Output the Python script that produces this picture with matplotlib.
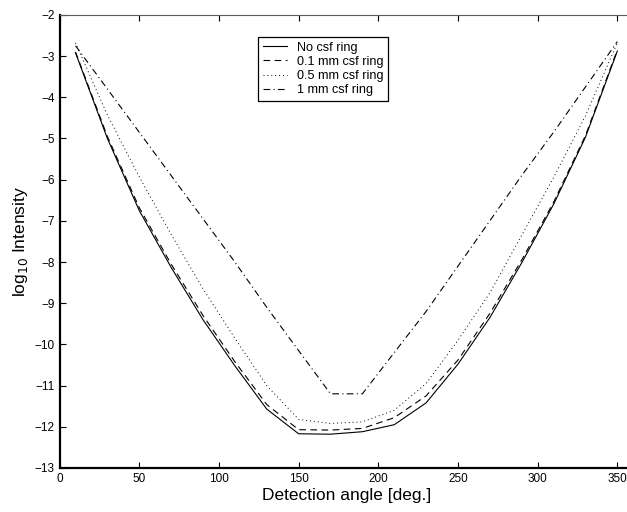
import matplotlib

matplotlib.use("Agg")
import matplotlib.pyplot as plt
import numpy as np

# detection angles (deg) and log10 intensity per csf ring thickness
angles = [10, 30, 50, 70, 90, 110, 130, 150, 170, 190, 210, 230, 250, 270, 290, 310, 330, 350]
no_csf = [-2.92, -5.00, -6.75, -8.13, -9.40, -10.52, -11.57, -12.17, -12.18, -12.12, -11.95,
          -11.42, -10.48, -9.35, -8.02, -6.60, -4.97, -2.88]
csf_01 = [-2.90, -4.95, -6.68, -8.05, -9.30, -10.42, -11.46, -12.07, -12.08, -12.04, -11.78,
          -11.25, -10.38, -9.25, -7.95, -6.55, -4.93, -2.85]
csf_05 = [-2.68, -4.43, -5.93, -7.33, -8.65, -9.85, -11.00, -11.82, -11.92, -11.88, -11.60,
          -10.95, -9.90, -8.75, -7.35, -5.95, -4.45, -2.68]
csf_1 = [-2.75, -3.80, -4.85, -5.90, -6.95, -8.00, -9.10, -10.15, -11.20, -11.20, -10.20,
         -9.20, -8.10, -7.00, -5.90, -4.85, -3.75, -2.65]

labels = ["No csf ring", "0.1 mm csf ring", "0.5 mm csf ring", "1 mm csf ring"]

plt.rcParams["font.family"] = ["Liberation Sans", "DejaVu Sans"]

fig = plt.figure(figsize=(6.27, 5.12), dpi=100)
ax = fig.add_axes([0.095, 0.086, 0.915, 0.885])

series = [
    (no_csf, "-", 0.8),
    (csf_01, (0, (6, 4)), 0.8),
    (csf_05, (0, (1, 3)), 0.7),
    (csf_1, (0, (6, 3, 1, 3)), 0.8),
]
for (vals, ls, lw), lab in zip(series, labels):
    ax.plot(angles, vals, linestyle=ls, color="black", linewidth=lw, label=lab)

ax.set_xlim(0, 360)
ax.set_ylim(-13, -2)
ax.set_xticks(np.arange(0, 351, 50))
ax.set_yticks(np.arange(-13, -1, 1))
ax.tick_params(direction="in", length=4, labelsize=8.5, top=True, right=True, width=0.8)

for side in ("left", "bottom"):
    ax.spines[side].set_linewidth(1.6)
    ax.spines[side].set_color("black")
ax.spines["top"].set_linewidth(0.8)
ax.spines["top"].set_color("0.35")

ax.set_xlabel("Detection angle [deg.]", fontsize=12.5, labelpad=2.5)
ax.set_ylabel(r"log$_{10}$ Intensity", fontsize=12.5, labelpad=3)

leg = ax.legend(loc="upper left", bbox_to_anchor=(0.346, 0.952), borderaxespad=0,
                fontsize=9.1, handlelength=1.9, handletextpad=0.75, borderpad=0.4,
                labelspacing=0.17, fancybox=False, framealpha=1, edgecolor="black")
leg.get_frame().set_linewidth(0.9)

fig.savefig("out.png", dpi=100)
